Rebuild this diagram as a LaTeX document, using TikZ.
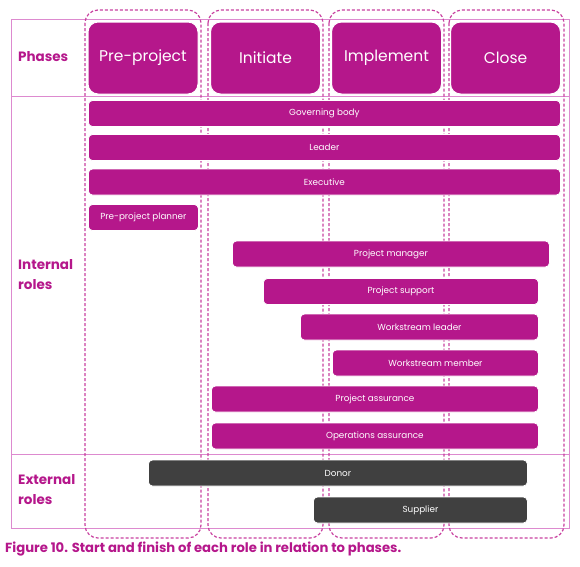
\documentclass[tikz,border=0pt]{standalone}
\usepackage{fontspec}
\setmainfont{Poppins}
\definecolor{plum}{HTML}{B5178B}
\definecolor{dashpink}{HTML}{C8409F}
\definecolor{framepink}{HTML}{DD8ACF}
\definecolor{slate}{HTML}{404040}

\begin{document}
\begin{tikzpicture}[x=1pt,y=-1pt,
  frame/.style={draw=framepink, line width=1pt},
  column/.style={draw=dashpink, line width=1.2pt, dash pattern=on 3pt off 2pt, rounded corners=13pt},
  phase/.style={draw=white, line width=1pt, fill=plum, rounded corners=10pt, text=white,
    font=\fontsize{15.5}{18}\selectfont, inner sep=0pt, minimum width=110pt, minimum height=72pt},
  role/.style={draw=white, line width=0.8pt, fill=plum, rounded corners=4pt, text=white,
    font=\fontsize{8.8}{10}\selectfont, inner sep=0pt, minimum height=26pt, anchor=west},
  extrole/.style={role, fill=slate},
  heading/.style={text=plum, font=\bfseries\fontsize{13.5}{20}\selectfont, align=left, anchor=west, inner sep=0pt}
  ]
\useasboundingbox (0,0) rectangle (580,566);

% table frame
\draw[frame] (11,19) rectangle (569,528);
\draw[frame] (11,96) -- (569,96);
\draw[frame] (11,454) -- (569,454);

% phase columns
\draw[column] (85,10) rectangle (201,538);
\draw[column] (208,10) rectangle (323,538);
\draw[column] (329,10) rectangle (444,538);
\draw[column] (449,10) rectangle (564,538);

% phases
\node[phase] (preproject) at (143,58) {Pre-project};
\node[phase] (initiate) at (265.5,58) {Initiate};
\node[phase] (implement) at (386.5,58) {Implement};
\node[phase] (close) at (505.5,58) {Close};

% internal roles
\node[role, minimum width=472pt] (governing) at (88,113.5) {Governing body};
\node[role, minimum width=472pt] (leader) at (88,147.5) {Leader};
\node[role, minimum width=472pt] (executive) at (88,182) {Executive};
\node[role, minimum width=110pt] (planner) at (88,217.5) {Pre-project planner};
\node[role, minimum width=317pt] (manager) at (232,254) {Project manager};
\node[role, minimum width=275pt] (support) at (263,291.5) {Project support};
\node[role, minimum width=238pt] (wsleader) at (300,327) {Workstream leader};
\node[role, minimum width=206pt] (wsmember) at (332,363) {Workstream member};
\node[role, minimum width=327pt] (passurance) at (211,399) {Project assurance};
\node[role, minimum width=327pt] (oassurance) at (211,436) {Operations assurance};

% external roles
\node[extrole, minimum width=379pt] (donor) at (148,473) {Donor};
\node[extrole, minimum width=214pt] (supplier) at (313,510) {Supplier};

% row headings
\node[heading] (phases) at (18,57) {Phases};
\node[heading] (internal) at (18,275) {Internal\\roles};
\node[heading] (external) at (18,490) {External\\roles};

% caption
\node[heading, font=\bfseries\fontsize{13.2}{15}\selectfont] (caption) at (5,549)
  {Figure 10. Start and finish of each role in relation to phases.};
\end{tikzpicture}
\end{document}
